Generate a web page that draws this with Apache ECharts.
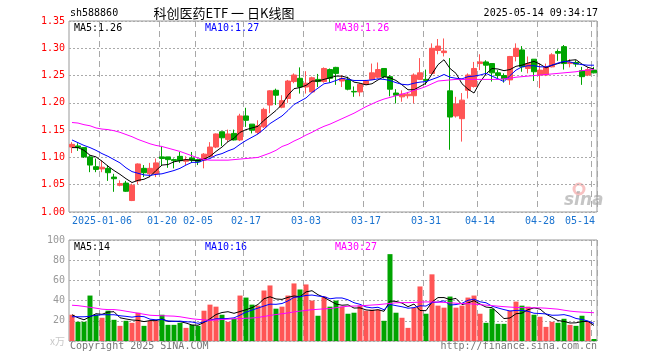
<!DOCTYPE html>
<html><head><meta charset="utf-8">
<script src="https://cdn.jsdelivr.net/npm/echarts@6/dist/echarts.min.js"></script>
<style>html,body{margin:0;padding:0;background:#fff}#c{width:660px;height:360px}</style>
</head><body><div id="c"></div>
<script>
const dates = ['2024-12-27','2024-12-30','2024-12-31','2025-01-02','2025-01-03','2025-01-06','2025-01-07','2025-01-08','2025-01-09','2025-01-10',
'2025-01-13','2025-01-14','2025-01-15','2025-01-16','2025-01-17','2025-01-20','2025-01-21','2025-01-22','2025-01-23','2025-01-24',
'2025-01-27','2025-02-05','2025-02-06','2025-02-07','2025-02-10','2025-02-11','2025-02-12','2025-02-13','2025-02-14','2025-02-17',
'2025-02-18','2025-02-19','2025-02-20','2025-02-21','2025-02-24','2025-02-25','2025-02-26','2025-02-27','2025-02-28','2025-03-03',
'2025-03-04','2025-03-05','2025-03-06','2025-03-07','2025-03-10','2025-03-11','2025-03-12','2025-03-13','2025-03-14','2025-03-17',
'2025-03-18','2025-03-19','2025-03-20','2025-03-21','2025-03-24','2025-03-25','2025-03-26','2025-03-27','2025-03-28','2025-03-31',
'2025-04-01','2025-04-02','2025-04-03','2025-04-07','2025-04-08','2025-04-09','2025-04-10','2025-04-11','2025-04-14','2025-04-15',
'2025-04-16','2025-04-17','2025-04-18','2025-04-21','2025-04-22','2025-04-23','2025-04-24','2025-04-25','2025-04-28','2025-04-29',
'2025-04-30','2025-05-06','2025-05-07','2025-05-08','2025-05-09','2025-05-12','2025-05-13','2025-05-14'];

const opens = [1.119,1.121,1.118,1.101,1.083,1.079,1.080,1.064,1.049,1.053,
1.021,1.057,1.080,1.070,1.070,1.101,1.101,1.096,1.102,1.093,
1.099,1.096,1.095,1.102,1.119,1.147,1.133,1.144,1.132,1.176,
1.161,1.146,1.156,1.196,1.223,1.192,1.208,1.239,1.245,1.229,
1.220,1.243,1.239,1.261,1.265,1.240,1.242,1.221,1.220,1.234,
1.243,1.247,1.263,1.248,1.218,1.211,1.213,1.213,1.243,1.243,
1.254,1.296,1.292,1.222,1.176,1.171,1.223,1.230,1.272,1.275,
1.272,1.255,1.250,1.242,1.285,1.297,1.263,1.280,1.251,1.251,
1.266,1.294,1.303,1.272,1.274,1.259,1.251,1.260];
const closes = [1.124,1.118,1.101,1.086,1.078,1.082,1.072,1.061,1.052,1.038,
1.049,1.088,1.072,1.080,1.090,1.098,1.096,1.094,1.094,1.096,
1.095,1.092,1.106,1.119,1.143,1.136,1.143,1.132,1.176,1.168,
1.150,1.158,1.188,1.222,1.214,1.204,1.240,1.251,1.229,1.236,
1.246,1.239,1.263,1.245,1.254,1.245,1.225,1.220,1.234,1.240,
1.255,1.261,1.248,1.225,1.214,1.216,1.216,1.251,1.255,1.241,
1.300,1.304,1.295,1.174,1.198,1.205,1.251,1.263,1.275,1.269,
1.255,1.250,1.244,1.285,1.300,1.266,1.272,1.257,1.260,1.266,
1.288,1.291,1.272,1.274,1.271,1.248,1.261,1.255];
const lows = [1.108,1.112,1.099,1.073,1.073,1.073,1.057,1.037,1.047,1.037,
1.020,1.051,1.064,1.064,1.064,1.085,1.081,1.080,1.090,1.086,
1.090,1.086,1.080,1.101,1.117,1.121,1.128,1.131,1.130,1.156,
1.144,1.143,1.154,1.181,1.196,1.190,1.200,1.236,1.217,1.217,
1.219,1.229,1.237,1.237,1.233,1.229,1.223,1.211,1.212,1.233,
1.242,1.245,1.245,1.212,1.199,1.202,1.208,1.199,1.242,1.233,
1.251,1.289,1.285,1.114,1.173,1.129,1.208,1.228,1.260,1.251,
1.239,1.245,1.237,1.233,1.276,1.257,1.254,1.240,1.227,1.249,
1.265,1.277,1.261,1.265,1.266,1.233,1.249,1.254];
const highs = [1.128,1.126,1.119,1.104,1.098,1.095,1.086,1.070,1.058,1.057,
1.052,1.089,1.086,1.090,1.098,1.121,1.101,1.098,1.110,1.102,
1.110,1.098,1.108,1.128,1.144,1.147,1.151,1.151,1.180,1.191,
1.161,1.168,1.191,1.223,1.226,1.214,1.242,1.254,1.265,1.258,
1.248,1.253,1.265,1.263,1.266,1.251,1.248,1.230,1.236,1.242,
1.272,1.274,1.263,1.251,1.225,1.223,1.220,1.254,1.282,1.261,
1.309,1.317,1.318,1.282,1.211,1.218,1.254,1.275,1.289,1.278,
1.272,1.260,1.254,1.286,1.309,1.304,1.285,1.280,1.272,1.272,
1.291,1.298,1.306,1.280,1.278,1.266,1.265,1.266];

const ma5 = [1.118,1.118,1.113,1.104,1.101,1.093,1.084,1.076,1.069,1.061,
1.054,1.058,1.060,1.065,1.076,1.086,1.087,1.092,1.094,1.096,
1.095,1.094,1.097,1.102,1.111,1.119,1.129,1.135,1.146,1.151,
1.154,1.157,1.168,1.177,1.186,1.197,1.214,1.226,1.228,1.232,
1.240,1.240,1.243,1.246,1.249,1.249,1.246,1.238,1.236,1.233,
1.235,1.242,1.248,1.246,1.241,1.233,1.224,1.224,1.230,1.236,
1.253,1.270,1.279,1.263,1.254,1.235,1.225,1.218,1.238,1.253,
1.263,1.262,1.259,1.261,1.267,1.269,1.273,1.276,1.271,1.264,
1.269,1.272,1.275,1.278,1.279,1.271,1.265,1.262];
const ma10 = [1.132,1.127,1.122,1.118,1.113,1.107,1.102,1.096,1.090,1.081,
1.074,1.071,1.068,1.067,1.069,1.070,1.073,1.076,1.080,1.086,
1.091,1.091,1.095,1.098,1.104,1.107,1.112,1.116,1.124,1.131,
1.137,1.143,1.152,1.162,1.169,1.176,1.186,1.197,1.203,1.209,
1.219,1.227,1.235,1.237,1.241,1.245,1.243,1.241,1.241,1.241,
1.242,1.244,1.243,1.241,1.237,1.234,1.233,1.236,1.238,1.239,
1.243,1.247,1.252,1.247,1.245,1.244,1.248,1.249,1.251,1.254,
1.249,1.244,1.239,1.250,1.260,1.266,1.268,1.268,1.266,1.266,
1.269,1.273,1.276,1.275,1.272,1.270,1.269,1.269];
const ma30 = [1.164,1.163,1.160,1.158,1.154,1.152,1.151,1.149,1.146,1.142,
1.138,1.133,1.129,1.125,1.122,1.120,1.117,1.114,1.111,1.107,
1.103,1.099,1.096,1.095,1.095,1.095,1.095,1.096,1.097,1.098,
1.099,1.100,1.104,1.108,1.113,1.120,1.124,1.130,1.135,1.141,
1.146,1.152,1.157,1.161,1.166,1.171,1.176,1.181,1.187,1.193,
1.198,1.203,1.207,1.210,1.213,1.216,1.219,1.223,1.226,1.230,
1.235,1.240,1.241,1.242,1.243,1.243,1.243,1.243,1.243,1.243,
1.243,1.243,1.244,1.245,1.247,1.248,1.249,1.250,1.251,1.252,
1.253,1.254,1.255,1.256,1.257,1.259,1.260,1.261];

const volumes = [26,19,19,45,26,23,30,21,15,20,
18,28,15,20,20,26,16,16,18,13,
16,15,30,36,34,26,19,22,45,43,
36,35,50,55,32,34,45,57,51,56,
40,25,44,34,40,34,27,28,35,30,
31,31,20,86,28,23,13,33,54,27,
66,35,33,44,33,35,43,45,27,18,
32,17,17,30,39,35,34,26,24,14,
19,18,22,16,15,25,19,2];
const volMa5 = [26,23,21,24,27,26.4,28.6,29,23,21.8,
20.8,20.4,19.2,20.2,20.2,21.8,19.4,19.6,19.2,17.8,
15.8,15.6,18.4,22,26.2,28.2,29,27.4,29.2,31,
33,36.2,41.8,43.8,41.6,41.2,43.2,44.6,43.8,48.6,
49.8,45.8,43.2,39.8,36.6,35.4,35.8,32.6,32.8,30.8,
30.2,31,29.4,39.6,39.2,37.6,34,36.6,30.2,30,
38.6,43,43,41,42.2,36,37.6,40,36.6,33.6,
33,27.8,22.2,22.8,27,27.6,31,32.8,31.6,26.6,
23.4,20.2,19.4,17.8,18,19.2,19.4,15.4];
const volMa10 = [24,24,24,24.5,25.5,26,26,26,25,24.4,
23.6,24.5,24.1,21.6,21,21.3,19.9,19.4,19.7,19,
18.8,17.5,19,20.6,22,22,22.3,22.9,25.6,28.6,
30.6,32.6,34.6,36.5,36.3,37.1,39.7,43.2,43.8,45.1,
45.5,44.5,43.9,41.8,42.6,42.6,40.8,37.9,36.3,33.7,
32.8,33.4,31,36.2,35,33.9,32.5,33,34.9,34.6,
38.1,38.5,39.8,35.6,36.1,37.3,40.3,41.5,38.8,37.9,
34.5,32.7,31.1,29.7,30.3,30.3,29.4,27.5,27.2,26.8,
25.5,25.6,26.1,24.7,22.3,21.3,19.8,17.4];
const volMa30 = [35.4,35,34.2,33.4,32.5,31.5,31.1,31.1,30.5,29.5,
28.5,27.5,26.5,25.5,25.2,25,24.8,24.6,24,23,
22,21.4,21,20.5,20.8,21.3,21.6,22,22.2,22.5,
22.8,23.3,24.3,25.3,26.2,27,27.8,28.8,29.6,30.3,
31,31.4,31.8,32.1,33,33.8,34.4,34.6,34.8,35.2,
35.6,36,36.6,37.2,37.8,38,38,38.2,38.5,38.7,
38.7,38.5,38.2,37.8,37.4,37,37,36.5,36,35.5,
35,34.5,34,33.6,33.2,33.1,33,32.9,32.8,32.5,
32,31.5,30.5,29.6,29,28.6,28.3,28];

const tickDates = ['2025-01-06','2025-01-20','2025-02-05','2025-02-17','2025-03-03','2025-03-17','2025-03-31','2025-04-14','2025-04-28','2025-05-14'];
const tickTexts = ['2025-01-06','01-20','02-05','02-17','03-03','03-17','03-31','04-14','04-28','05-14'];
const priceLegend = ['MA5:1.26','MA10:1.27','MA30:1.26'];
const volLegend = ['MA5:14','MA10:16','MA30:27'];

const MONO = '"DejaVu Sans Mono","Liberation Mono",monospace';
const CJK = '"Noto Sans CJK SC","Noto Sans",sans-serif';
const RED = '#ff5555', GREEN = '#00a400';
const lineColors = ['#000000','#0000ff','#ff00ff'];
const tickIdx = tickDates.map(d => dates.indexOf(d));
const isTick = (i) => tickIdx.indexOf(i) >= 0;

const candleData = dates.map((d, i) => [opens[i], closes[i], lows[i], highs[i]]);
const volData = volumes.map((v, i) => ({ value: v, itemStyle: { color: closes[i] >= opens[i] ? RED : GREEN } }));

function lineSeries(data, color, xi, yi) {
  return { type: 'line', data: data, xAxisIndex: xi, yAxisIndex: yi, symbol: 'none', silent: true,
    lineStyle: { color: color, width: 1 }, z: 5 };
}
function txt(x, y, text, color, font, align) {
  return { type: 'text', x: x, y: y, silent: true,
    style: { text: text, fill: color, font: font, textAlign: align || 'left', textVerticalAlign: 'middle', align: align || 'left', verticalAlign: 'middle' } };
}
const vSplit = { show: true, interval: (i) => isTick(i), lineStyle: { color: '#a8a8a8', type: [6, 4], width: 1 } };
const hSplit = { show: true, lineStyle: { color: '#aaaaaa', type: [2, 2], width: 1 } };

const chart = echarts.init(document.getElementById('c'), null, { renderer: 'canvas' });
chart.setOption({
  animation: false,
  backgroundColor: '#ffffff',
  grid: [
    { left: 69, top: 21, width: 528, height: 191, show: true, borderColor: '#999999', borderWidth: 1, backgroundColor: 'transparent' },
    { left: 69, top: 240, width: 528, height: 101, show: true, borderColor: '#999999', borderWidth: 1, backgroundColor: 'transparent' }
  ],
  xAxis: [
    { type: 'category', gridIndex: 0, data: dates, boundaryGap: true,
      axisLine: { show: false }, axisTick: { show: false }, splitLine: vSplit,
      axisLabel: { interval: (i) => isTick(i), color: '#1a73d0', fontFamily: MONO, fontSize: 10, margin: 4,
        formatter: (v) => { const j = tickDates.indexOf(v); if (j < 0) return ''; return j === tickDates.length - 1 ? '{last|' + tickTexts[j] + '}' : tickTexts[j]; },
        rich: { last: { padding: [0, 28, 0, 0], color: '#1a73d0', fontFamily: MONO, fontSize: 10 } } } },
    { type: 'category', gridIndex: 1, data: dates, boundaryGap: true,
      axisLine: { show: false }, axisTick: { show: false }, axisLabel: { show: false }, splitLine: vSplit }
  ],
  yAxis: [
    { type: 'value', gridIndex: 0, min: 1.0, max: 1.35, interval: 0.05, scale: false,
      axisLine: { show: false }, axisTick: { show: false }, splitLine: hSplit,
      axisLabel: { color: '#ff0000', fontFamily: MONO, fontSize: 10, margin: 4, formatter: (v) => v.toFixed(2) } },
    { type: 'value', gridIndex: 1, min: 0, max: 100, interval: 20,
      axisLine: { show: false }, axisTick: { show: false }, splitLine: hSplit,
      axisLabel: { color: '#999999', fontFamily: MONO, fontSize: 10, margin: 4,
        formatter: (v) => v === 0 ? '{u|x万}' : String(v),
        rich: { u: { color: '#c8c8c8', fontFamily: CJK, fontSize: 10 } } } }
  ],
  series: [
    { type: 'candlestick', xAxisIndex: 0, yAxisIndex: 0, data: candleData, barWidth: 5, silent: true,
      itemStyle: { color: RED, color0: GREEN, borderColor: RED, borderColor0: GREEN, borderWidth: 1 } },
    lineSeries(ma5, lineColors[0], 0, 0),
    lineSeries(ma10, lineColors[1], 0, 0),
    lineSeries(ma30, lineColors[2], 0, 0),
    { type: 'bar', xAxisIndex: 1, yAxisIndex: 1, data: volData, barWidth: 5, silent: true },
    lineSeries(volMa5, lineColors[0], 1, 1),
    lineSeries(volMa10, lineColors[1], 1, 1),
    lineSeries(volMa30, lineColors[2], 1, 1)
  ],
  graphic: [
    txt(70, 13, 'sh588860', '#000000', '10px ' + MONO),
    txt(224, 13, '科创医药ETF 一 日K线图', '#000000', '13px ' + CJK, 'center'),
    txt(598, 13, '2025-05-14 09:34:17', '#000000', '10px ' + MONO, 'right'),
    txt(74, 28, priceLegend[0], lineColors[0], '10px ' + MONO),
    txt(205, 28, priceLegend[1], lineColors[1], '10px ' + MONO),
    txt(335, 28, priceLegend[2], lineColors[2], '10px ' + MONO),
    txt(74, 247, volLegend[0], lineColors[0], '10px ' + MONO),
    txt(205, 247, volLegend[1], lineColors[1], '10px ' + MONO),
    txt(335, 247, volLegend[2], lineColors[2], '10px ' + MONO),
    txt(70, 346, 'Copyright 2025 SINA.COM', '#777777', '10px ' + MONO),
    txt(597, 346, 'http://finance.sina.com.cn', '#777777', '10px ' + MONO, 'right'),
    { type: 'circle', silent: true, shape: { cx: 579, cy: 189, r: 5 }, style: { fill: 'none', stroke: 'rgba(240,120,120,0.45)', lineWidth: 3 } },
    txt(564, 201, 'sina', 'rgba(150,150,150,0.55)', 'italic bold 17px "DejaVu Sans",sans-serif')
  ]
});
</script></body></html>
